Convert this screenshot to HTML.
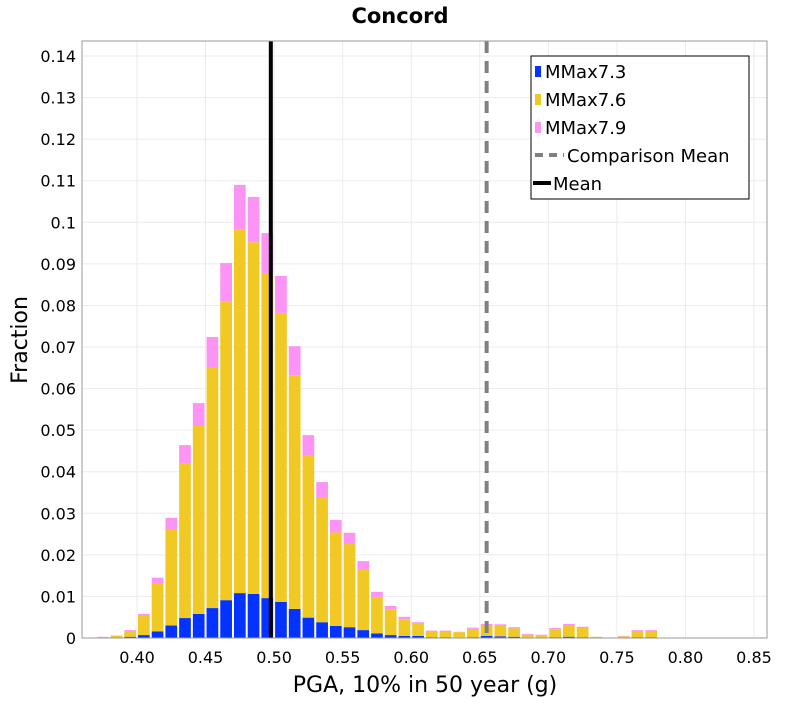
<!DOCTYPE html>
<html><head><meta charset="utf-8"><style>
body{margin:0;background:#fff;width:800px;height:700px;overflow:hidden}
text{font-family:"DejaVu Sans","Liberation Sans",sans-serif}
</style></head><body>
<svg id="chart" width="800" height="700" xmlns="http://www.w3.org/2000/svg">
<text x="400" y="23" text-anchor="middle" font-size="21" font-weight="bold">Concord</text>
<g id="grid"></g>
<g id="bars"></g>
<g id="lines"></g>
<rect x="82" y="41" width="685" height="597" fill="none" stroke="#999" stroke-width="1"/>
<g id="yticks"></g>
<g id="xticks"></g>
<text transform="translate(27,340) rotate(-90)" text-anchor="middle" font-size="22">Fraction</text>
<text x="425" y="692" text-anchor="middle" font-size="22">PGA, 10% in 50 year (g)</text>
<g>
<rect x="531" y="56" width="218" height="143" fill="#fff" stroke="#000" stroke-width="1"/>
<g><rect x="535" y="66" width="6" height="11" fill="#0433ff"/><text x="545" y="78" font-size="18">MMax7.3</text></g>
<g><rect x="535" y="94" width="6" height="11" fill="#f0c924"/><text x="545" y="106" font-size="18">MMax7.6</text></g>
<g><rect x="535" y="122" width="6" height="11" fill="#fc94f5"/><text x="545" y="134" font-size="18">MMax7.9</text></g>
<g><line x1="535" y1="155" x2="564" y2="155" stroke="#808080" stroke-width="4" stroke-dasharray="8,6"/><text x="567" y="162" font-size="18">Comparison Mean</text></g>
<g><line x1="533" y1="183" x2="551" y2="183" stroke="#000" stroke-width="4"/><text x="553" y="190" font-size="18">Mean</text></g>
</g>
</svg>
<script>
const binStarts=[0.37,0.38,0.39,0.40,0.41,0.42,0.43,0.44,0.45,0.46,0.47,0.48,0.49,0.50,0.51,0.52,0.53,0.54,0.55,0.56,0.57,0.58,0.59,0.60,0.61,0.62,0.63,0.64,0.65,0.66,0.67,0.68,0.69,0.70,0.71,0.72,0.73,0.74,0.75,0.76,0.77,0.78];
const mmax73=[0.0001,0.0001,0.0003,0.0007,0.0016,0.0030,0.0048,0.0058,0.0072,0.0091,0.0108,0.0106,0.0096,0.0087,0.0070,0.0049,0.0038,0.0029,0.0026,0.0019,0.0011,0.0007,0.0005,0.0005,0.0002,0.0002,0.0001,0.0002,0.0005,0.0004,0.0003,0.0001,0.0001,0.0002,0.0003,0.0002,0.0001,0,0.0001,0.0002,0.0002,0];
const mmax76=[0.0001,0.0004,0.0014,0.0046,0.0115,0.0231,0.0371,0.0452,0.0580,0.0719,0.0874,0.0846,0.0780,0.0695,0.0562,0.0389,0.0300,0.0225,0.0200,0.0147,0.0088,0.0062,0.0040,0.0029,0.0015,0.0015,0.0013,0.0020,0.0025,0.0025,0.0020,0.0007,0.0006,0.0019,0.0027,0.0022,0.0002,0.0001,0.0003,0.0015,0.0015,0.0001];
const mmax79=[0.0001,0.0001,0.0002,0.0005,0.0014,0.0028,0.0045,0.0055,0.0072,0.0092,0.0108,0.0109,0.0098,0.0089,0.0070,0.0050,0.0037,0.0030,0.0027,0.0019,0.0012,0.0008,0.0006,0.0004,0.0001,0.0001,0.0001,0.0003,0.0004,0.0004,0.0003,0.0002,0.0001,0.0003,0.0004,0.0003,0,0,0.0001,0.0002,0.0002,0];
const binWidth=0.01;
const meanValue=0.4976;
const comparisonMean=0.655;
const yTicks=[0,0.01,0.02,0.03,0.04,0.05,0.06,0.07,0.08,0.09,0.1,0.11,0.12,0.13,0.14];
const yTickLabels=["0","0.01","0.02","0.03","0.04","0.05","0.06","0.07","0.08","0.09","0.1","0.11","0.12","0.13","0.14"];
const xTicks=[0.40,0.45,0.50,0.55,0.60,0.65,0.70,0.75,0.80,0.85];
const xTickLabels=["0.40","0.45","0.50","0.55","0.60","0.65","0.70","0.75","0.80","0.85"];

const NS="http://www.w3.org/2000/svg";
const xS=v=>137+(v-0.40)*1371.1;
const yS=v=>638-v*4157;
function mk(tag,attrs,parent){const e=document.createElementNS(NS,tag);for(const k in attrs)e.setAttribute(k,attrs[k]);parent.appendChild(e);return e;}
const grid=document.getElementById('grid'),bars=document.getElementById('bars'),lines=document.getElementById('lines'),yt=document.getElementById('yticks'),xt=document.getElementById('xticks');
yTicks.forEach((t,i)=>{
  const g=mk('line',{x1:82,x2:767,y1:yS(t),y2:yS(t),stroke:'#ebebeb','stroke-width':1},grid);
  
  
  const l=mk('text',{x:76,y:yS(t)+6,'text-anchor':'end','font-size':16},yt);
  l.textContent=yTickLabels[i];
  
  
});
xTicks.forEach((t,i)=>{
  const g=mk('line',{x1:xS(t),x2:xS(t),y1:41,y2:638,stroke:'#ebebeb','stroke-width':1},grid);
  
  
  const l=mk('text',{x:xS(t),y:663,'text-anchor':'middle','font-size':16},xt);
  l.textContent=xTickLabels[i];
  
  
});
const series=[[mmax73,'#0433ff','bar-mmax73'],[mmax76,'#f0c924','bar-mmax76'],[mmax79,'#fc94f5','bar-mmax79']];
binStarts.forEach((b,i)=>{
  let base=0;
  series.forEach(([arr,col,name])=>{
    const v=arr[i];
    if(v>0){
      const x0=xS(b)+1,x1=xS(b+binWidth)-1;
      const r=mk('rect',{x:x0,y:yS(base+v),width:Math.max(0,x1-x0),height:yS(base)-yS(base+v),fill:col},bars);
      
      
    }
    base+=v;
  });
});
const cm=mk('line',{x1:xS(comparisonMean),x2:xS(comparisonMean),y1:41,y2:638,stroke:'#808080','stroke-width':4,'stroke-dasharray':'12,8'},lines);


const ml=mk('line',{x1:xS(meanValue),x2:xS(meanValue),y1:41,y2:638,stroke:'#000','stroke-width':4},lines);


</script>
</body></html>
